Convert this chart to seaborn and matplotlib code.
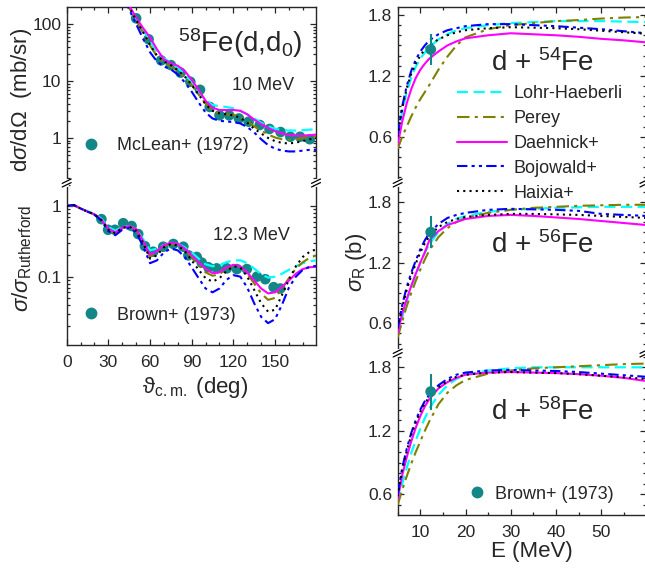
import numpy as np
import pandas as pd
import seaborn as sns
import matplotlib
matplotlib.use("Agg")
import matplotlib.pyplot as plt
from matplotlib.lines import Line2D
from matplotlib.ticker import MultipleLocator, LogLocator, FuncFormatter, NullFormatter

# ---------------- data ----------------
models = ["Lohr-Haeberli", "Perey", "Daehnick+", "Bojowald+", "Haixia+"]

# 58Fe(d,d0) at 10 MeV, dsigma/dOmega (mb/sr)
ang_10 = [40, 45, 50, 55, 60, 65, 70, 75, 80, 85, 90, 95, 100, 105, 110, 115, 120,
          125, 130, 135, 140, 145, 150, 155, 160, 165, 170, 175, 180]
lohr_10 = [370, 200, 125, 80, 50, 32, 25, 21, 17, 13, 9.5, 6.5, 4.6, 3.8, 3.6, 3.5, 3.3,
           3.0, 2.6, 2.2, 1.85, 1.6, 1.45, 1.38, 1.35, 1.35, 1.37, 1.4, 1.42]
perey_10 = [340, 190, 115, 70, 42, 27, 21, 18, 15, 11.5, 8.5, 5.8, 4.0, 3.0, 2.7, 2.6, 2.55,
            2.3, 1.95, 1.6, 1.35, 1.15, 1.02, 0.95, 0.93, 0.95, 1.0, 1.05, 1.08]
daeh_10 = [380, 210, 130, 85, 58, 36, 24, 20.5, 18.5, 15, 10.5, 7, 4.5, 3.4, 3.1, 3.1, 3.1,
           3.0, 2.6, 2.1, 1.75, 1.5, 1.32, 1.2, 1.13, 1.1, 1.1, 1.12, 1.15]
bojo_10 = [330, 180, 100, 55, 32, 22, 18, 16, 13, 9.5, 6.5, 4.2, 2.8, 2.2, 2.0, 1.95, 1.9,
           1.8, 1.55, 1.25, 0.95, 0.75, 0.65, 0.6, 0.58, 0.58, 0.6, 0.62, 0.62]
haix_10 = [345, 195, 118, 72, 43, 28, 22, 19, 15.5, 12, 8.6, 5.8, 3.9, 3.0, 2.7, 2.6, 2.5,
           2.25, 1.85, 1.45, 1.2, 1.0, 0.88, 0.82, 0.8, 0.83, 0.88, 0.95, 1.0]
mclean_ang = [50, 59, 68, 75, 82, 89, 96, 103, 110, 117, 124, 131, 139, 146, 154, 161, 168, 175]
mclean_xs = [126, 54, 23, 19, 14, 9.7, 7.0, 3.5, 2.5, 2.5, 2.2, 1.93, 1.69, 1.44, 1.27, 1.05, 1.05, 0.95]

# 58Fe(d,d0) at 12.3 MeV, ratio to Rutherford
ang_12 = list(range(0, 181, 5))
lohr_12 = [1.0, 1.03, 0.92, 0.84, 0.77, 0.66, 0.5, 0.45, 0.5, 0.52, 0.47, 0.34, 0.235, 0.25,
           0.28, 0.3, 0.29, 0.26, 0.22, 0.18, 0.15, 0.14, 0.145, 0.16, 0.17, 0.17, 0.155,
           0.13, 0.108, 0.097, 0.1, 0.11, 0.125, 0.14, 0.155, 0.165, 0.17]
perey_12 = [1.0, 1.03, 0.92, 0.83, 0.76, 0.63, 0.46, 0.41, 0.49, 0.51, 0.46, 0.31, 0.19, 0.22,
            0.27, 0.29, 0.28, 0.24, 0.19, 0.145, 0.115, 0.103, 0.108, 0.13, 0.145, 0.14, 0.11,
            0.08, 0.058, 0.047, 0.05, 0.068, 0.095, 0.13, 0.16, 0.185, 0.2]
daeh_12 = [1.0, 1.03, 0.92, 0.83, 0.76, 0.64, 0.48, 0.42, 0.49, 0.52, 0.47, 0.32, 0.205, 0.23,
           0.28, 0.3, 0.29, 0.25, 0.2, 0.16, 0.13, 0.112, 0.115, 0.135, 0.147, 0.14, 0.115,
           0.088, 0.068, 0.058, 0.06, 0.072, 0.088, 0.11, 0.128, 0.136, 0.138]
bojo_12 = [1.0, 1.03, 0.92, 0.83, 0.75, 0.62, 0.44, 0.385, 0.46, 0.49, 0.42, 0.27, 0.155, 0.17,
           0.22, 0.25, 0.235, 0.19, 0.135, 0.095, 0.068, 0.06, 0.068, 0.09, 0.105, 0.1, 0.07,
           0.042, 0.027, 0.022, 0.025, 0.04, 0.07, 0.1, 0.125, 0.138, 0.142]
haix_12 = [1.0, 1.03, 0.92, 0.83, 0.76, 0.63, 0.46, 0.41, 0.49, 0.51, 0.45, 0.3, 0.18, 0.2,
           0.26, 0.29, 0.275, 0.23, 0.17, 0.125, 0.095, 0.085, 0.095, 0.12, 0.14, 0.135, 0.1,
           0.065, 0.042, 0.032, 0.034, 0.055, 0.09, 0.14, 0.19, 0.225, 0.245]
brown_ang = [25, 29.8, 34.7, 40.7, 46.7, 51.5, 56.3, 62.3, 69.5, 76.8, 84, 87.6, 93.6, 97.2,
             102, 108, 115.3, 122.5, 129.7, 137, 143, 149, 153.8]
brown_ratio = [0.65, 0.46, 0.46, 0.57, 0.52, 0.40, 0.27, 0.225, 0.265, 0.29, 0.265, 0.2, 0.19,
               0.158, 0.136, 0.131, 0.131, 0.128, 0.128, 0.1, 0.092, 0.071, 0.068]

# total reaction cross sections (b) vs deuteron energy (MeV)
energy = [5, 6, 7, 8, 9, 10, 11, 12, 14, 16, 18, 20, 25, 30, 35, 40, 45, 50, 55, 60]
sigR_54 = {
    "Lohr-Haeberli": [0.6, 0.85, 1.04, 1.18, 1.29, 1.37, 1.43, 1.48, 1.56, 1.61, 1.65, 1.67,
                      1.70, 1.72, 1.73, 1.74, 1.74, 1.74, 1.735, 1.73],
    "Perey": [0.48, 0.6, 0.7, 0.8, 0.89, 0.97, 1.04, 1.11, 1.26, 1.39, 1.5, 1.58, 1.66, 1.7,
              1.72, 1.74, 1.75, 1.765, 1.775, 1.78],
    "Daehnick+": [0.52, 0.75, 0.93, 1.07, 1.18, 1.26, 1.32, 1.37, 1.44, 1.5, 1.54, 1.57, 1.6,
                  1.62, 1.61, 1.6, 1.585, 1.565, 1.55, 1.53],
    "Bojowald+": [0.62, 0.9, 1.1, 1.25, 1.36, 1.44, 1.5, 1.55, 1.61, 1.65, 1.67, 1.69, 1.71,
                  1.71, 1.70, 1.69, 1.675, 1.66, 1.64, 1.62],
    "Haixia+": [0.6, 0.88, 1.08, 1.22, 1.32, 1.4, 1.46, 1.5, 1.56, 1.6, 1.63, 1.65, 1.67, 1.68,
                1.675, 1.67, 1.66, 1.645, 1.63, 1.615],
}
sigR_56 = {
    "Lohr-Haeberli": [0.48, 0.66, 0.82, 0.96, 1.08, 1.2, 1.3, 1.38, 1.5, 1.58, 1.63, 1.66, 1.7,
                      1.72, 1.73, 1.74, 1.745, 1.75, 1.75, 1.75],
    "Perey": [0.46, 0.62, 0.77, 0.9, 1.02, 1.13, 1.23, 1.32, 1.45, 1.54, 1.6, 1.64, 1.69, 1.72,
              1.74, 1.75, 1.76, 1.765, 1.77, 1.77],
    "Daehnick+": [0.5, 0.7, 0.84, 0.97, 1.09, 1.2, 1.3, 1.42, 1.51, 1.57, 1.6, 1.63, 1.66, 1.67,
                  1.66, 1.645, 1.63, 1.61, 1.59, 1.57],
    "Bojowald+": [0.55, 0.78, 0.96, 1.1, 1.22, 1.33, 1.42, 1.49, 1.58, 1.64, 1.67, 1.69, 1.72,
                  1.73, 1.725, 1.72, 1.71, 1.68, 1.67, 1.66],
    "Haixia+": [0.55, 0.76, 0.93, 1.07, 1.19, 1.3, 1.39, 1.46, 1.55, 1.6, 1.63, 1.65, 1.67, 1.68,
                1.68, 1.675, 1.67, 1.66, 1.65, 1.64],
}
sigR_58 = {
    "Lohr-Haeberli": [0.52, 0.7, 0.85, 0.99, 1.11, 1.22, 1.32, 1.41, 1.54, 1.63, 1.69, 1.73,
                      1.77, 1.79, 1.8, 1.8, 1.8, 1.8, 1.8, 1.8],
    "Perey": [0.5, 0.64, 0.77, 0.89, 1.0, 1.1, 1.2, 1.29, 1.45, 1.56, 1.63, 1.68, 1.74, 1.77,
              1.79, 1.8, 1.81, 1.82, 1.83, 1.835],
    "Daehnick+": [0.55, 0.78, 0.95, 1.1, 1.23, 1.34, 1.43, 1.5, 1.6, 1.66, 1.7, 1.73, 1.75,
                  1.755, 1.75, 1.745, 1.735, 1.72, 1.7, 1.67],
    "Bojowald+": [0.6, 0.85, 1.03, 1.18, 1.3, 1.4, 1.48, 1.54, 1.63, 1.69, 1.73, 1.75, 1.77,
                  1.775, 1.77, 1.765, 1.755, 1.74, 1.725, 1.71],
    "Haixia+": [0.58, 0.83, 1.01, 1.16, 1.28, 1.38, 1.46, 1.52, 1.61, 1.67, 1.71, 1.73, 1.75,
                1.755, 1.75, 1.745, 1.735, 1.72, 1.705, 1.69],
}
brown_E = [12.3]
brown_sigR = {"54": [1.46], "56": [1.50], "58": [1.57]}
brown_err = {"54": [0.15], "56": [0.16], "58": [0.17]}

# ---------------- style ----------------
sns.set_style("ticks")
plt.rcParams["font.family"] = ["Liberation Sans", "DejaVu Sans"]
plt.rcParams["mathtext.fontset"] = "custom"
plt.rcParams["mathtext.rm"] = "Liberation Sans"
plt.rcParams["mathtext.it"] = "Liberation Sans:italic"
plt.rcParams["mathtext.bf"] = "Liberation Sans:bold"
plt.rcParams["axes.linewidth"] = 1.0

colors = {"Lohr-Haeberli": "#00FFFF", "Perey": "#808000", "Daehnick+": "#FF00FF",
          "Bojowald+": "#0000FF", "Haixia+": "#000000"}
styles = {"Lohr-Haeberli": (0, (5, 2.5)), "Perey": (0, (6, 2.5, 1.5, 2.5)),
          "Daehnick+": "-", "Bojowald+": (0, (5, 2, 1.5, 2, 1.5, 2)),
          "Haixia+": (0, (1, 2))}
widths = {"Lohr-Haeberli": 1.6, "Perey": 1.5, "Daehnick+": 1.5, "Bojowald+": 1.5, "Haixia+": 1.5}
teal = "#138787"

W, H = 645, 568
fig = plt.figure(figsize=(W / 100, H / 100), dpi=100)


def box(x0, x1, y0, y1):
    # pixel box (top-left origin) -> figure fraction rect
    return [x0 / W, 1 - y1 / H, (x1 - x0) / W, (y1 - y0) / H]


axL1 = fig.add_axes(box(66.7, 316, 7, 183))
axL2 = fig.add_axes(box(66.7, 316, 183, 345))
axR1 = fig.add_axes(box(397.7, 645.5, 7, 183))
axR2 = fig.add_axes(box(397.7, 645.5, 183, 353))
axR3 = fig.add_axes(box(397.7, 645.5, 353, 515))


def draw_models(ax, x, table):
    for m in models:
        df = pd.DataFrame({"x": x, "y": table[m]})
        sns.lineplot(data=df, x="x", y="y", ax=ax, color=colors[m], linestyle=styles[m],
                     lw=widths[m], errorbar=None, legend=False, sort=False, zorder=3)


# ---- left: angular distributions ----
axL1.set_yscale("log")
sns.scatterplot(x=mclean_ang, y=mclean_xs, ax=axL1, color=teal, s=58, edgecolor="none",
                zorder=2, legend=False)
draw_models(axL1, ang_10, dict(zip(models, [lohr_10, perey_10, daeh_10, bojo_10, haix_10])))
axL1.set_ylim(0.162, 199)

axL2.set_yscale("log")
sns.scatterplot(x=brown_ang, y=brown_ratio, ax=axL2, color=teal, s=58, edgecolor="none",
                zorder=2, legend=False)
draw_models(axL2, ang_12, dict(zip(models, [lohr_12, perey_12, daeh_12, bojo_12, haix_12])))
axL2.set_ylim(0.0108, 2.11)

for ax in (axL1, axL2):
    ax.set_xlim(0, 179.5)
    ax.xaxis.set_major_locator(MultipleLocator(30))
    ax.xaxis.set_minor_locator(MultipleLocator(10))
    ax.yaxis.set_major_locator(LogLocator(base=10, numticks=10))
    ax.yaxis.set_minor_locator(LogLocator(base=10, subs=np.arange(2, 10), numticks=10))
    ax.yaxis.set_major_formatter(FuncFormatter(lambda v, p: f"{v:g}"))
    ax.yaxis.set_minor_formatter(NullFormatter())
    ax.set_xlabel("")
    ax.set_ylabel("")

# ---- right: reaction cross sections ----
for ax, tab, key, lim in ((axR1, sigR_54, "54", (0.143, 1.879)),
                          (axR2, sigR_56, "56", (0.307, 1.985)),
                          (axR3, sigR_58, "58", (0.404, 1.935))):
    ax.errorbar(brown_E, brown_sigR[key], yerr=brown_err[key], fmt="none", ecolor=teal,
                elinewidth=1.5, capsize=0, zorder=4)
    sns.scatterplot(x=brown_E, y=brown_sigR[key], ax=ax, color=teal, s=60, edgecolor="none",
                    zorder=4, legend=False)
    draw_models(ax, energy, tab)
    ax.set_xlim(5, 59.8)
    ax.set_ylim(*lim)
    ax.xaxis.set_major_locator(MultipleLocator(10))
    ax.xaxis.set_minor_locator(MultipleLocator(5))
    ax.yaxis.set_major_locator(MultipleLocator(0.6))
    ax.yaxis.set_minor_locator(MultipleLocator(0.1))
    ax.yaxis.set_major_formatter(FuncFormatter(lambda v, p: f"{v:.1f}"))
    ax.set_xlabel("")
    ax.set_ylabel("")

# spines / ticks for the broken stacks
for ax, top, bottom in ((axL1, True, False), (axL2, False, True), (axR1, True, False),
                        (axR2, False, False), (axR3, False, True)):
    ax.spines["top"].set_visible(top)
    ax.spines["bottom"].set_visible(bottom)
    ax.tick_params(which="both", direction="in", left=True, right=True, top=top,
                   bottom=bottom, labelbottom=bottom, labelsize=12.5, width=0.9)
    ax.tick_params(which="major", length=4.5)
    ax.tick_params(which="minor", length=2.5)
    ax.tick_params(axis="y", which="major", pad=4)
    ax.tick_params(axis="x", which="major", pad=7)
    ax.patch.set_alpha(0)


# axis break marks
def brk(px, py):
    fig.add_artist(Line2D([px / W, px / W], [1 - (py + 2) / H, 1 - (py - 2) / H],
                          color="white", lw=3))
    for d in (-1.8, 1.8):
        fig.add_artist(Line2D([(px - 4.5) / W, (px + 4.5) / W],
                              [1 - (py + d + 2.2) / H, 1 - (py + d - 2.2) / H],
                              color="black", lw=0.9))


for px, py in ((66.7, 183), (316, 183), (397.7, 183), (397.7, 353), (644.5, 183), (644.5, 353)):
    brk(px, py)


def ftext(px, py, s, **kw):
    fig.text(px / W, 1 - py / H, s, ha=kw.pop("ha", "center"), va=kw.pop("va", "center"), **kw)


# labels
ftext(22, 100, r"d$\sigma$/d$\Omega$  (mb/sr)", rotation=90, fontsize=16)
ftext(22, 258, r"$\sigma$/$\sigma_{\rm Rutherford}$", rotation=90, fontsize=16)
ftext(195, 387, r"ϑ$_{\rm c.m.}$ (deg)", fontsize=16)
ftext(356, 262, r"$\sigma_{\rm R}$ (b)", rotation=90, fontsize=16)
ftext(532, 551, "E (MeV)", fontsize=16)

ftext(240, 43, r"$^{58}$Fe(d,d$_0$)", fontsize=20)
ftext(263, 85, "10 MeV", fontsize=13)
ftext(251, 235, "12.3 MeV", fontsize=13)
ftext(542, 63, r"d + $^{54}$Fe", fontsize=20)
ftext(542, 245, r"d + $^{56}$Fe", fontsize=20)
ftext(542, 412, r"d + $^{58}$Fe", fontsize=20)

# model legend
handles = [Line2D([], [], color=colors[m], linestyle=styles[m], lw=widths[m]) for m in models]
fig.legend(handles, models, loc="center left", bbox_to_anchor=(456.7 / W, 1 - 143.5 / H),
           frameon=False, fontsize=13, handlelength=2.77, handletextpad=0.37,
           labelspacing=0.43, borderpad=0, borderaxespad=0)

# data legends
dot = Line2D([], [], color=teal, marker="o", markersize=7.5, linestyle="none")
fig.legend([dot], ["McLean+ (1972)"], loc="center left",
           bbox_to_anchor=(81.7 / W, 1 - 145.7 / H), frameon=False, fontsize=13,
           handlelength=1.0, handletextpad=0.96, borderpad=0, borderaxespad=0)
fig.legend([dot], ["Brown+ (1973)"], loc="center left",
           bbox_to_anchor=(81.7 / W, 1 - 315 / H), frameon=False, fontsize=13,
           handlelength=1.0, handletextpad=0.96, borderpad=0, borderaxespad=0)
fig.legend([dot], ["Brown+ (1973)"], loc="center left",
           bbox_to_anchor=(467.7 / W, 1 - 494.3 / H), frameon=False, fontsize=13,
           handlelength=1.0, handletextpad=0.5, borderpad=0, borderaxespad=0)

fig.savefig("out.png", dpi=100)
